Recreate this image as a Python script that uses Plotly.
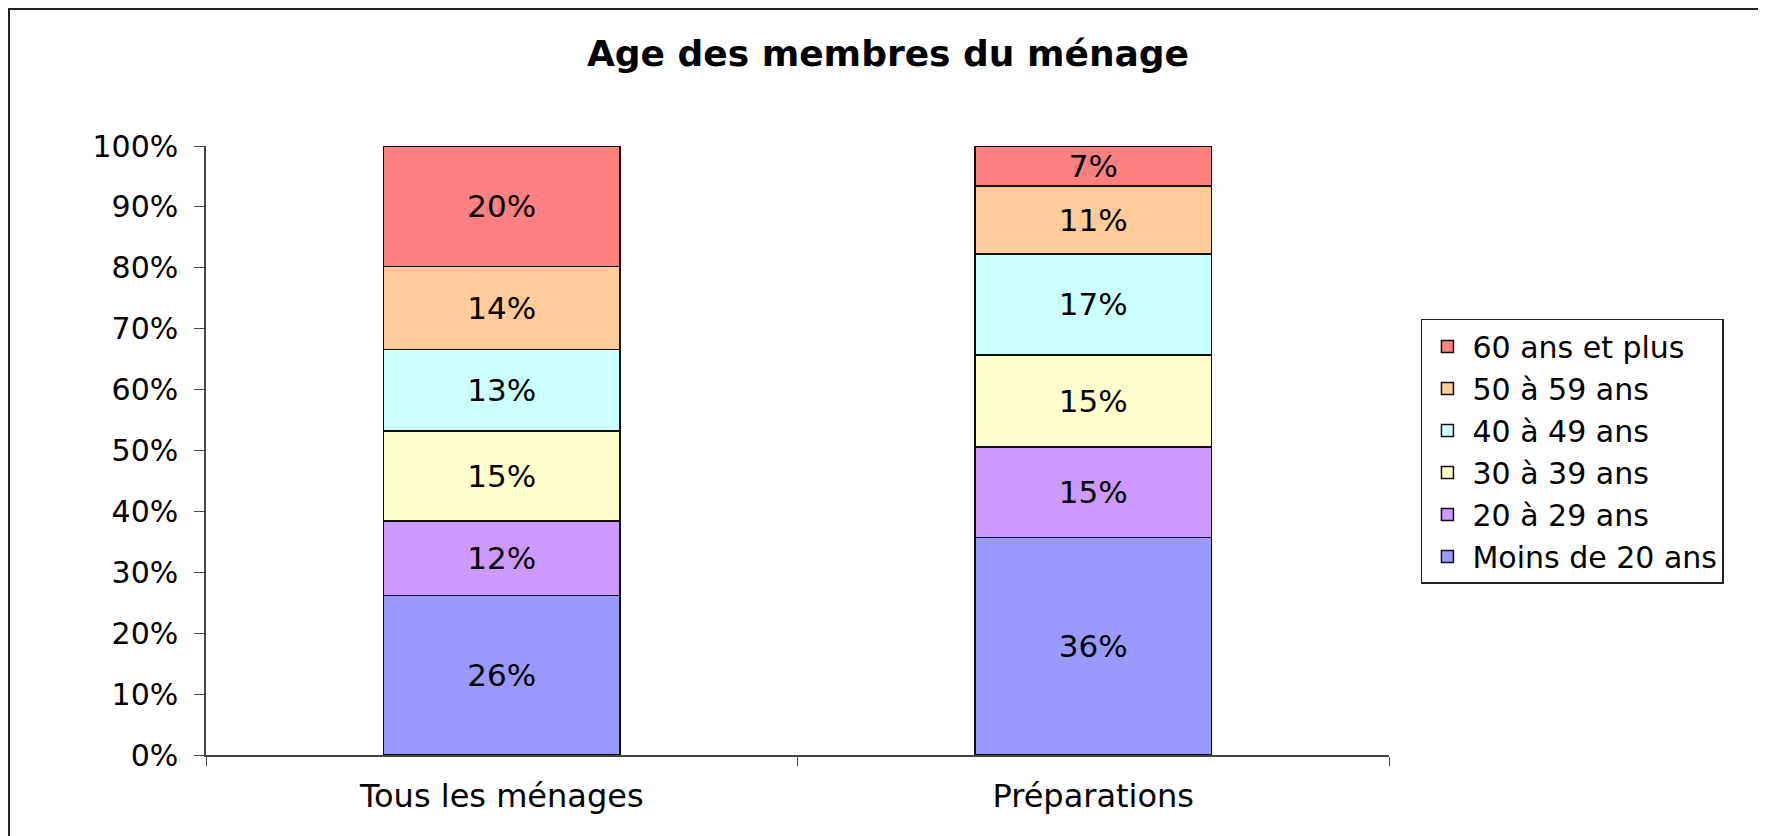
import plotly.graph_objects as go

# Age distribution of household members (in %)
categories = ["Tous les ménages", "Préparations"]
age_groups = ["Moins de 20 ans", "20 à 29 ans", "30 à 39 ans",
              "40 à 49 ans", "50 à 59 ans", "60 ans et plus"]
tous_menages = [26.2, 12.2, 14.8, 13.4, 13.6, 19.8]
preparations = [35.7, 14.9, 15.1, 16.6, 11.1, 6.6]
colors = ["#9999FF", "#CC99FF", "#FFFFCC", "#CCFFFF", "#FFCC99", "#FF8080"]
y_ticks = list(range(0, 101, 10))
y_tick_labels = [f"{v}%" for v in y_ticks]

FONT = "DejaVu Sans"

# the page has an 8px body margin, so the figure is drawn 8px smaller
W, H = 1758, 828
L, R, T, B = 198, 377, 138, 81
pw, ph = W - L - R, H - T - B

fig = go.Figure()
for i, name in enumerate(age_groups):
    fig.add_trace(go.Bar(
        x=categories,
        y=[tous_menages[i], preparations[i]],
        name=name,
        legendgroup=name,
        legendrank=100 - i,  # oldest group on top, as in the stack
        marker=dict(color=colors[i], line=dict(color="#111111", width=1.5)),
        width=0.4,
        texttemplate="%{y:.0f}%",
        textposition="inside",
        insidetextanchor="middle",
        textangle=0,
        textfont=dict(family=FONT, size=31, color="black"),
        hoverinfo="skip",
    ))

fig.update_layout(
    width=W, height=H,
    barmode="stack",
    paper_bgcolor="white", plot_bgcolor="white",
    margin=dict(l=L, r=R, t=T, b=B),
    font=dict(family=FONT, color="black"),
    title=dict(
        text="<b>Age des membres du ménage</b>",
        font=dict(family=FONT, size=36, color="black"),
        x=880 / W, xanchor="center", y=1 - 45 / H, yanchor="middle",
    ),
    uniformtext=dict(minsize=31, mode="show"),
    legend=dict(
        x=1.027, xanchor="left", y=0.716, yanchor="top",
        bordercolor="#222222", borderwidth=1.5,
        font=dict(family=FONT, size=30, color="black"),
        traceorder="grouped",
        tracegroupgap=0,
        itemwidth=40,
    ),
    shapes=[dict(
        type="rect", xref="paper", yref="paper",
        x0=(1 - L) / pw, x1=(1752 - L) / pw,
        y0=-0.2, y1=(H - B - 1) / ph,
        line=dict(color="#222222", width=2), layer="below",
    )],
)

fig.update_yaxes(
    range=[0, 100], tickvals=y_ticks, ticktext=y_tick_labels,
    showgrid=False, zeroline=False,
    showline=True, linecolor="#444444", linewidth=1.5,
    ticks="outside", ticklen=10, tickcolor="#444444",
    ticklabelstandoff=10,
    tickfont=dict(family=FONT, size=30, color="black"),
)
fig.update_xaxes(
    range=[-0.5, 1.5],
    showgrid=False, showline=True, linecolor="#444444", linewidth=1.5,
    ticks="outside", ticklen=9, tickcolor="#444444", tickson="boundaries",
    ticklabelstandoff=12,
    tickfont=dict(family=FONT, size=32, color="black"),
)

fig.write_html("out.html")
